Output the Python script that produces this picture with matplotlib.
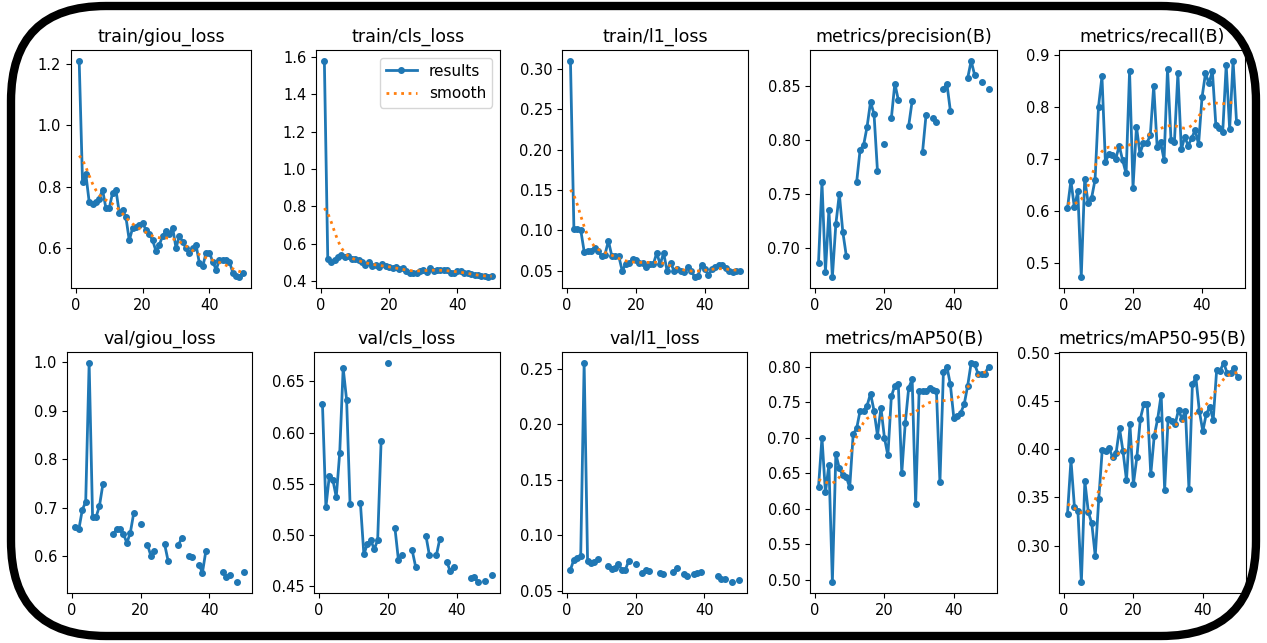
import numpy as np
import matplotlib
matplotlib.use('Agg')
import matplotlib.pyplot as plt
from matplotlib.patches import FancyBboxPatch

nan = np.nan
epochs = list(range(1, 51))

train_giou = [1.21, 0.815, 0.84, 0.75, 0.745, 0.75, 0.76, 0.79, 0.73, 0.73,
              0.78, 0.79, 0.715, 0.725, 0.70, 0.625, 0.665, 0.67, 0.675, 0.68,
              0.66, 0.645, 0.625, 0.59, 0.61, 0.64, 0.655, 0.645, 0.665, 0.60,
              0.64, 0.62, 0.60, 0.585, 0.60, 0.61, 0.55, 0.54, 0.585, 0.585,
              0.555, 0.53, 0.56, 0.56, 0.56, 0.555, 0.52, 0.51, 0.505, 0.52]
train_cls = [1.58, 0.515, 0.50, 0.51, 0.53, 0.54, 0.53, 0.535, 0.52, 0.515,
             0.51, 0.50, 0.485, 0.50, 0.48, 0.485, 0.475, 0.49, 0.48, 0.475,
             0.47, 0.475, 0.465, 0.47, 0.455, 0.445, 0.44, 0.445, 0.455, 0.46,
             0.45, 0.47, 0.455, 0.46, 0.46, 0.46, 0.46, 0.445, 0.445, 0.455,
             0.455, 0.445, 0.44, 0.435, 0.43, 0.43, 0.425, 0.425, 0.42, 0.425]
train_l1 = [0.31, 0.102, 0.102, 0.10, 0.073, 0.075, 0.075, 0.078, 0.075, 0.068,
            0.07, 0.087, 0.068, 0.068, 0.068, 0.05, 0.058, 0.06, 0.064, 0.063,
            0.06, 0.06, 0.055, 0.058, 0.058, 0.072, 0.058, 0.072, 0.05, 0.06,
            0.05, 0.052, 0.05, 0.048, 0.054, 0.05, 0.042, 0.044, 0.057, 0.052,
            0.045, 0.052, 0.054, 0.057, 0.057, 0.053, 0.05, 0.048, 0.05, 0.05]
precision = [0.686, 0.761, 0.678, 0.735, 0.673, 0.722, 0.750, 0.715, 0.693, nan,
             nan, 0.761, 0.791, 0.795, 0.812, 0.835, 0.824, 0.771, nan, 0.796,
             nan, 0.820, 0.852, 0.837, nan, nan, 0.813, 0.836, nan, nan,
             0.789, 0.823, nan, 0.820, 0.816, nan, 0.847, 0.852, 0.827, nan,
             nan, nan, nan, 0.857, 0.873, 0.860, nan, 0.853, nan, 0.847]
recall = [0.605, 0.658, 0.607, 0.638, 0.473, 0.662, 0.615, 0.625, 0.66, 0.80,
          0.858, 0.693, 0.71, 0.707, 0.70, 0.725, 0.697, 0.672, 0.868, 0.645,
          0.762, 0.71, 0.73, 0.73, 0.745, 0.84, 0.722, 0.732, 0.698, 0.873,
          0.737, 0.733, 0.864, 0.718, 0.742, 0.725, 0.74, 0.755, 0.728, 0.818,
          0.864, 0.845, 0.868, 0.765, 0.76, 0.752, 0.88, 0.757, 0.888, 0.77]
val_giou = [0.659, 0.655, 0.695, 0.712, 0.999, 0.68, 0.68, 0.703, 0.748, nan,
            nan, 0.645, 0.655, 0.655, 0.645, 0.627, 0.648, 0.689, nan, 0.667,
            nan, 0.623, 0.60, 0.61, nan, nan, 0.624, 0.59, nan, nan,
            0.622, 0.638, nan, 0.60, 0.598, nan, 0.582, 0.565, 0.61, nan,
            nan, nan, nan, 0.566, 0.557, 0.56, nan, 0.546, nan, 0.566]
val_cls = [0.628, 0.527, 0.558, 0.554, 0.537, 0.58, 0.663, 0.632, 0.53, nan,
           nan, 0.531, 0.481, 0.491, 0.495, 0.486, 0.495, 0.592, nan, 0.668,
           nan, 0.507, 0.476, 0.48, nan, nan, 0.485, 0.469, nan, nan,
           0.499, 0.48, nan, 0.48, 0.496, nan, 0.474, 0.465, 0.469, nan,
           nan, nan, nan, 0.458, 0.459, 0.454, nan, 0.455, nan, 0.461]
val_l1 = [0.069, 0.078, 0.080, 0.081, 0.255, 0.077, 0.075, 0.076, 0.079, nan,
          nan, 0.072, 0.070, 0.071, 0.074, 0.069, 0.069, 0.077, nan, 0.074,
          nan, 0.066, 0.069, 0.068, nan, nan, 0.066, 0.065, nan, nan,
          0.067, 0.071, nan, 0.065, 0.063, nan, 0.065, 0.066, 0.067, nan,
          nan, nan, nan, 0.063, 0.061, 0.061, nan, 0.058, nan, 0.060]
map50 = [0.63, 0.70, 0.623, 0.662, 0.497, 0.677, 0.657, 0.647, 0.645, 0.63,
         0.705, 0.713, 0.738, 0.738, 0.745, 0.762, 0.738, 0.703, 0.742, 0.70,
         0.675, 0.758, 0.773, 0.776, 0.65, 0.72, 0.77, 0.782, 0.607, 0.765,
         0.766, 0.766, 0.77, 0.767, 0.765, 0.637, 0.792, 0.80, 0.775, 0.728,
         0.73, 0.735, 0.747, 0.773, 0.805, 0.803, 0.79, 0.79, 0.79, 0.80]
map50_95 = [0.333, 0.389, 0.34, 0.336, 0.262, 0.367, 0.335, 0.323, 0.289, 0.348,
            0.399, 0.398, 0.401, 0.392, 0.396, 0.422, 0.398, 0.368, 0.426, 0.364,
            0.392, 0.432, 0.447, 0.447, 0.374, 0.414, 0.432, 0.457, 0.358, 0.432,
            0.43, 0.426, 0.441, 0.432, 0.44, 0.359, 0.468, 0.475, 0.44, 0.419,
            0.437, 0.444, 0.431, 0.483, 0.482, 0.49, 0.48, 0.48, 0.485, 0.475]

titles = ['train/giou_loss', 'train/cls_loss', 'train/l1_loss', 'metrics/precision(B)', 'metrics/recall(B)',
          'val/giou_loss', 'val/cls_loss', 'val/l1_loss', 'metrics/mAP50(B)', 'metrics/mAP50-95(B)']
series = [train_giou, train_cls, train_l1, precision, recall,
          val_giou, val_cls, val_l1, map50, map50_95]


def gauss_smooth(y, sigma=3):
    # same as scipy gaussian_filter1d, mode='reflect'
    r = int(4 * sigma + 0.5)
    k = np.exp(-0.5 * (np.arange(-r, r + 1) / sigma) ** 2)
    k /= k.sum()
    yp = np.pad(np.asarray(y, float), r, mode='symmetric')
    return np.convolve(yp, k, mode='valid')


W, H = 1267, 643
fig = plt.figure(figsize=(W / 100, H / 100), dpi=100)

# axes boxes in pixels: left, top, right, bottom
boxes = [(71, 50, 251, 288), (316, 50, 500, 288), (562, 50, 748, 288), (810, 50, 997, 288), (1059, 50, 1245, 288),
         (67, 352, 252, 593), (314, 352, 500, 593), (562, 352, 747, 593), (810, 352, 997, 593), (1059, 352, 1246, 593)]

for i, (title, y) in enumerate(zip(titles, series)):
    l, t, r, b = boxes[i]
    ax = fig.add_axes([l / W, 1 - b / H, (r - l) / W, (b - t) / H])
    ax.plot(epochs, y, marker='.', label='results', linewidth=2, markersize=8)
    if not np.isnan(y).any():
        ax.plot(epochs, gauss_smooth(y), ':', label='smooth', linewidth=2)
    else:
        ax.plot([], [], ':', label='smooth', linewidth=2)
    ax.set_title(title, fontsize=12.6)
    ax.set_xticks([0, 20, 40])
    ax.tick_params(labelsize=10.5)
    if i == 0:
        ax.set_yticks([0.6, 0.8, 1.0, 1.2])
    if i == 1:
        ax.legend(fontsize=11)

# rounded black frame on top
fr = fig.add_axes([0, 0, 1, 1], zorder=10)
fr.set_xlim(0, W)
fr.set_ylim(H, 0)
fr.axis('off')
fr.patch.set_alpha(0)
fr.add_patch(FancyBboxPatch((11, 6), W - 22, H - 13, boxstyle='round,pad=0,rounding_size=95',
                            fill=False, edgecolor='black', linewidth=6))

fig.savefig('out.png', dpi=100)
